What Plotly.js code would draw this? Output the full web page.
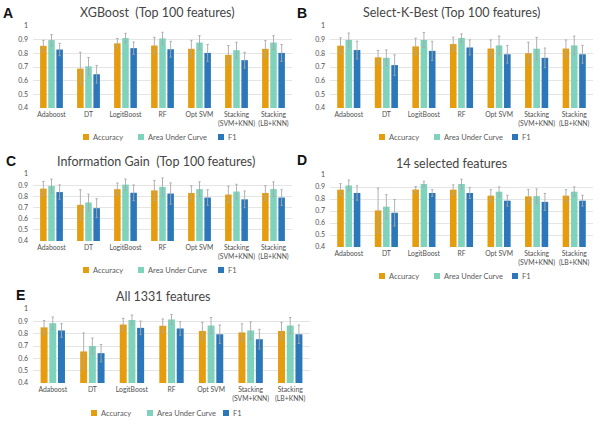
<!DOCTYPE html>
<html>
<head>
<meta charset="utf-8">
<script src="https://cdn.plot.ly/plotly-3.0.1.min.js"></script>
<style>html,body{margin:0;padding:0;background:#fff}#chart{width:600px;height:426px}</style>
</head>
<body>
<div id="chart"></div>
<script>
// ---- data ----
const categories = ["Adaboost", "DT", "LogitBoost", "RF", "Opt SVM", "Stacking<br>(SVM+KNN)", "Stacking<br>(LB+KNN)"];
const seriesNames = ["Accuracy", "Area Under Curve", "F1"];
const yTickVals = [0.4, 0.5, 0.6, 0.7, 0.8, 0.9, 1];
const yTickText = ["0.4", "0.5", "0.6", "0.7", "0.8", "0.9", "1"];
const panelTitles = ["XGBoost  (Top 100 features)", "Select-K-Best (Top 100 features)", "Information Gain  (Top 100 features)", "14 selected features", "All 1331 features"];
const panelLetters = ["A", "B", "C", "D", "E"];

// Panel A: XGBoost
const accA = [0.855, 0.688, 0.873, 0.857, 0.833, 0.789, 0.833];
const aucA = [0.897, 0.705, 0.912, 0.909, 0.879, 0.823, 0.879];
const f1A  = [0.828, 0.647, 0.838, 0.830, 0.803, 0.750, 0.803];
const accErrA = [0.04, 0.12, 0.035, 0.06, 0.062, 0.068, 0.06];
const aucErrA = [0.04, 0.065, 0.035, 0.045, 0.05, 0.058, 0.05];
const f1ErrA  = [0.045, 0.065, 0.045, 0.058, 0.062, 0.058, 0.062];

// Panel B: Select-K-Best
const accB = [0.856, 0.771, 0.851, 0.868, 0.835, 0.801, 0.835];
const aucB = [0.898, 0.767, 0.898, 0.912, 0.858, 0.834, 0.858];
const f1B  = [0.824, 0.714, 0.818, 0.843, 0.793, 0.767, 0.793];
const accErrB = [0.058, 0.05, 0.06, 0.05, 0.063, 0.08, 0.063];
const aucErrB = [0.05, 0.058, 0.055, 0.03, 0.068, 0.082, 0.068];
const f1ErrB  = [0.065, 0.075, 0.07, 0.055, 0.065, 0.072, 0.065];

// Panel C: Information Gain
const accC = [0.869, 0.724, 0.864, 0.853, 0.830, 0.816, 0.830];
const aucC = [0.893, 0.745, 0.905, 0.884, 0.865, 0.843, 0.865];
const f1C  = [0.838, 0.694, 0.832, 0.825, 0.789, 0.773, 0.789];
const accErrC = [0.065, 0.135, 0.055, 0.09, 0.065, 0.075, 0.065];
const aucErrC = [0.062, 0.075, 0.05, 0.08, 0.065, 0.065, 0.065];
const f1ErrC  = [0.065, 0.085, 0.07, 0.095, 0.07, 0.075, 0.07];

// Panel D: 14 selected features
const accD = [0.878, 0.705, 0.879, 0.878, 0.828, 0.822, 0.828];
const aucD = [0.913, 0.736, 0.926, 0.925, 0.861, 0.824, 0.861];
const f1D  = [0.850, 0.685, 0.850, 0.850, 0.786, 0.776, 0.786];
const accErrD = [0.05, 0.185, 0.025, 0.04, 0.05, 0.058, 0.05];
const aucErrD = [0.045, 0.1, 0.022, 0.04, 0.04, 0.06, 0.04];
const f1ErrD  = [0.06, 0.11, 0.028, 0.045, 0.045, 0.07, 0.045];

// Panel E: All 1331 features
const accE = [0.851, 0.656, 0.874, 0.864, 0.822, 0.810, 0.822];
const aucE = [0.885, 0.700, 0.911, 0.915, 0.866, 0.826, 0.866];
const f1E  = [0.826, 0.642, 0.847, 0.842, 0.795, 0.755, 0.795];
const accErrE = [0.055, 0.15, 0.05, 0.055, 0.07, 0.07, 0.07];
const aucErrE = [0.05, 0.065, 0.04, 0.04, 0.065, 0.07, 0.065];
const f1ErrE  = [0.055, 0.07, 0.055, 0.055, 0.075, 0.08, 0.075];

// ---- styling / layout ----
const colors = ["#E59D0E", "#7FD2BC", "#2B77B9"];
const W = 600, H = 426;
const panels = [
  {vals: [accA, aucA, f1A], errs: [accErrA, aucErrA, f1ErrA], x0: 33, x1: 292, yTop: 26, yBot: 108, title: [157, 13], letter: [8, 13], legY: 137, legX: [83, 138, 218]},
  {vals: [accB, aucB, f1B], errs: [accErrB, aucErrB, f1ErrB], x0: 330, x1: 593, yTop: 26, yBot: 108, title: [451, 13], letter: [302, 13], legY: 137, legX: [379, 434, 512]},
  {vals: [accC, aucC, f1C], errs: [accErrC, aucErrC, f1ErrC], x0: 33, x1: 292, yTop: 174, yBot: 241, title: [156, 162], letter: [11, 161], legY: 270, legX: [83, 138, 218]},
  {vals: [accD, aucD, f1D], errs: [accErrD, aucErrD, f1ErrD], x0: 330, x1: 593, yTop: 175, yBot: 247, title: [451, 163], letter: [302, 160], legY: 276, legX: [379, 434, 512]},
  {vals: [accE, aucE, f1E], errs: [accErrE, aucErrE, f1ErrE], x0: 33, x1: 310, yTop: 309, yBot: 383, title: [163, 296], letter: [20, 295], legY: 413, legX: [91, 147, 223]}
];

const FONT = "Lato, 'Open Sans', sans-serif";
const TXT = "#595959";
const traces = [];
const layout = {
  width: W, height: H,
  margin: {l: 0, r: 0, t: 0, b: 0},
  paper_bgcolor: "#fff", plot_bgcolor: "#fff",
  showlegend: false,
  barmode: "group",
  bargap: 0.34,
  bargroupgap: 0.2,
  font: {family: FONT, color: TXT},
  annotations: [],
  shapes: []
};

panels.forEach((p, i) => {
  const n = i + 1;
  const xa = n === 1 ? "x" : "x" + n;
  const ya = n === 1 ? "y" : "y" + n;
  seriesNames.forEach((name, s) => {
    traces.push({
      type: "bar",
      name: name,
      x: categories,
      y: p.vals[s],
      xaxis: xa, yaxis: ya,
      marker: {color: colors[s], line: {width: 0}},
      error_y: {type: "data", array: p.errs[s], visible: true, color: "#a8a8a8", thickness: 0.9, width: 1.2},
      hoverinfo: "x+y+name"
    });
  });
  layout["xaxis" + (n === 1 ? "" : n)] = {
    domain: [p.x0 / W, p.x1 / W],
    anchor: ya,
    type: "category",
    showgrid: false, zeroline: false, showline: false,
    ticks: "", tickfont: {size: 6.8, color: "#505050", family: FONT},
    ticklabelstandoff: 1,
    tickangle: 0, fixedrange: true
  };
  layout["yaxis" + (n === 1 ? "" : n)] = {
    domain: [1 - p.yBot / H, 1 - p.yTop / H],
    anchor: xa,
    range: [0.4, 1.0],
    tickvals: yTickVals, ticktext: yTickText,
    showgrid: true, gridcolor: "#dedede", gridwidth: 0.8,
    zeroline: false, showline: false, ticks: "",
    tickfont: {size: 7, color: "#505050", family: FONT},
    ticklabelstandoff: 4, fixedrange: true
  };
  layout.annotations.push({
    xref: "paper", yref: "paper", x: p.title[0] / W, y: 1 - p.title[1] / H,
    xanchor: "center", yanchor: "middle", showarrow: false,
    text: panelTitles[i], font: {size: 12.5, color: "#454545", family: FONT}
  });
  layout.annotations.push({
    xref: "paper", yref: "paper", x: p.letter[0] / W, y: 1 - p.letter[1] / H,
    xanchor: "center", yanchor: "middle", showarrow: false,
    text: "<b>" + panelLetters[i] + "</b>", font: {size: 14, color: "#111", family: "'Liberation Sans', Arial, sans-serif"}
  });
  seriesNames.forEach((name, s) => {
    const lx = p.legX[s];
    layout.shapes.push({
      type: "rect", xref: "paper", yref: "paper",
      x0: lx / W, x1: (lx + 6) / W,
      y0: 1 - (p.legY + 3) / H, y1: 1 - (p.legY - 3) / H,
      fillcolor: colors[s], line: {width: 0}
    });
    layout.annotations.push({
      xref: "paper", yref: "paper", x: (lx + 8) / W, y: 1 - p.legY / H,
      xanchor: "left", yanchor: "middle", showarrow: false,
      text: name,
      font: {size: 7.5, color: TXT, family: FONT}
    });
  });
});

Plotly.newPlot("chart", traces, layout, {displayModeBar: false, staticPlot: true});
</script>
</body>
</html>
